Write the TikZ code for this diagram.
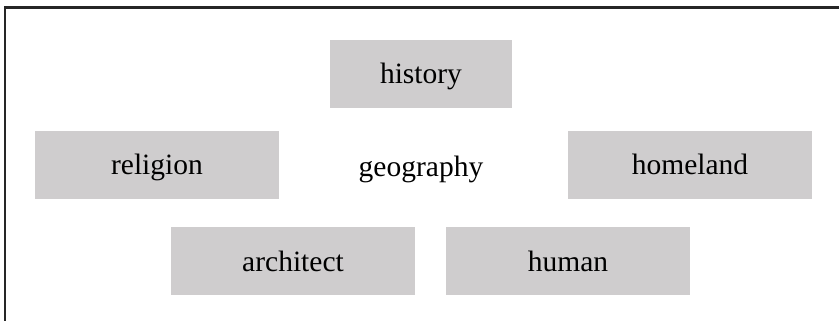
\documentclass[tikz,border=0pt]{standalone}
\usepackage{fontspec}
\setmainfont{Liberation Serif}
\definecolor{boxgray}{HTML}{CFCDCE}
\definecolor{framegray}{HTML}{262626}
\begin{document}
\begin{tikzpicture}[x=1pt,y=-1pt,
  label text/.style={font=\fontsize{29.5}{34}\selectfont, text=black,
    text height=20pt, text depth=0pt},
  term/.style={label text, fill=boxgray, draw=none, inner sep=0pt,
    minimum height=68pt, minimum width=244pt},
  plain/.style={label text, inner sep=0pt}]
  \useasboundingbox (0,0) rectangle (839,321);
  % open frame: top and left edges
  \draw[framegray, line width=2.2pt] (5,321) -- (5,7.5) -- (839,7.5);
  % word boxes
  \node[term, minimum width=182pt] (history) at (421,74) {history};
  \node[term] (religion) at (157,165) {religion};
  \node[plain] (geography) at (421,166) {geography};
  \node[term] (homeland) at (690,165) {homeland};
  \node[term] (architect) at (293,261) {architect};
  \node[term] (human) at (568,261) {human};
\end{tikzpicture}
\end{document}
